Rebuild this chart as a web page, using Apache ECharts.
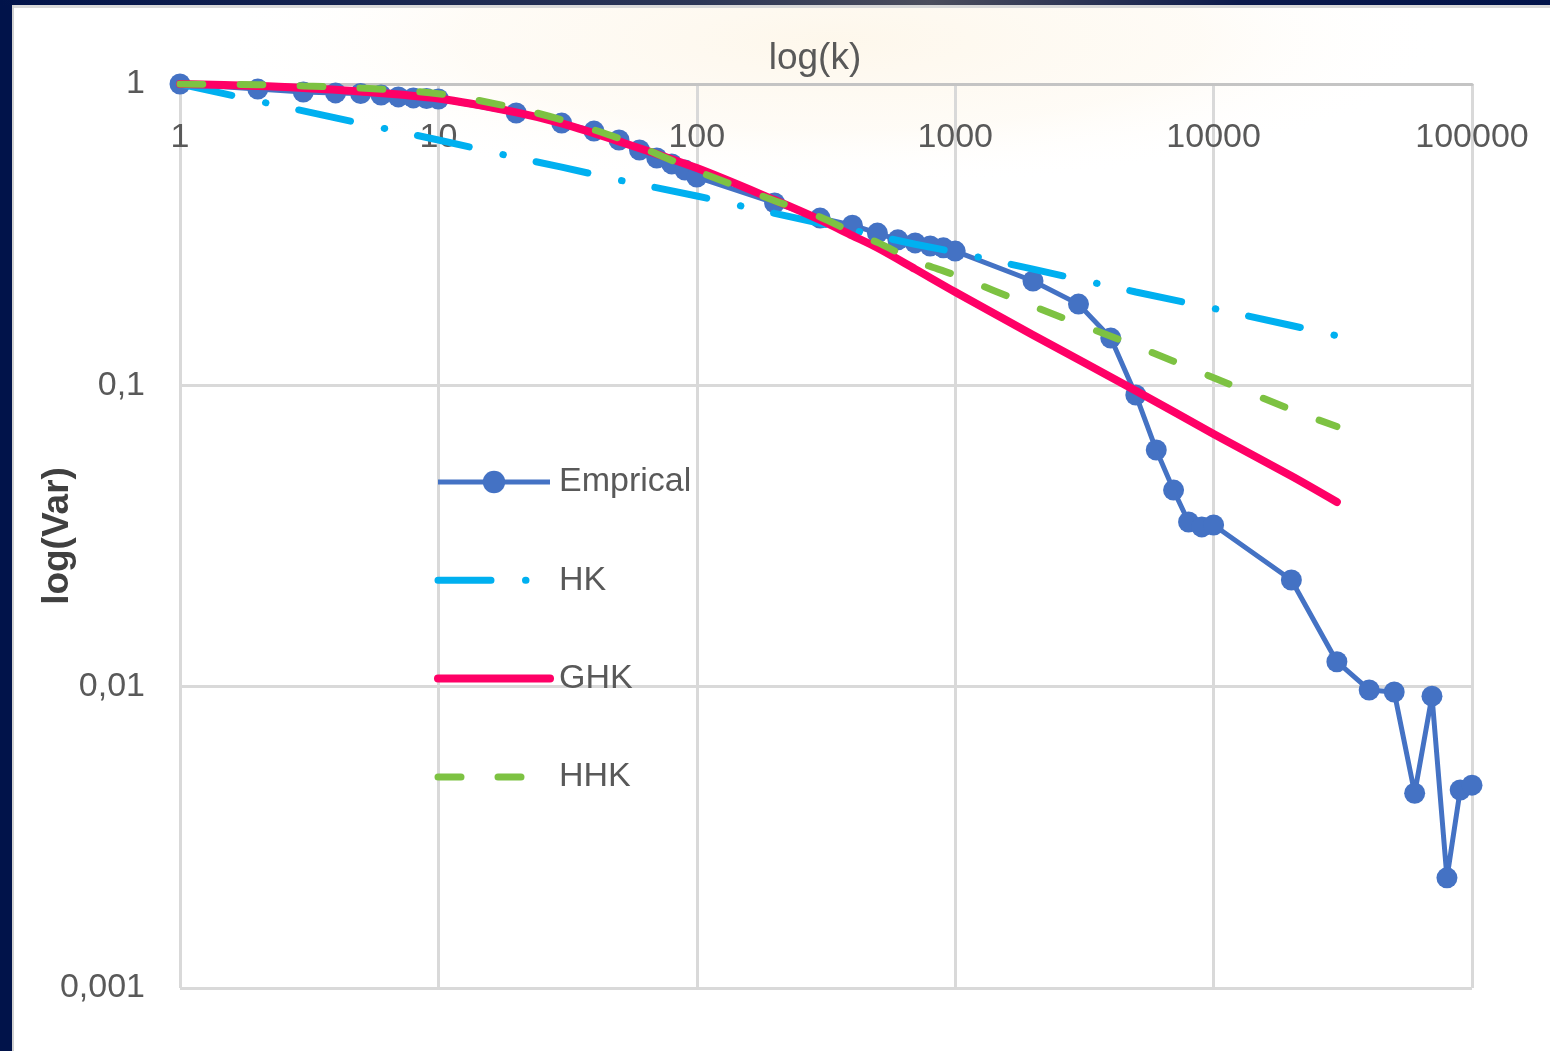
<!DOCTYPE html>
<html>
<head>
<meta charset="utf-8">
<title>log(Var) vs log(k)</title>
<script src="https://cdn.jsdelivr.net/npm/echarts@6/dist/echarts.min.js"></script>
<style>
  html, body { margin: 0; padding: 0; background: #ffffff; }
  #chart { width: 1550px; height: 1051px; }
</style>
</head>
<body>
<div id="chart"></div>
<script>
// Aggregation scales k and the empirical variance at each scale
const empiricalK = [1, 2, 3, 4, 5, 6, 7, 8, 9, 10,
  20, 30, 40, 50, 60, 70, 80, 90, 100,
  200, 300, 400, 500, 600, 700, 800, 900, 1000,
  2000, 3000, 4000, 5000, 6000, 7000, 8000, 9000, 10000,
  20000, 30000, 40000, 50000, 60000, 70000, 80000, 90000, 100000];
const empiricalVar = [1.0, 0.962, 0.941, 0.934, 0.93, 0.919, 0.906, 0.899, 0.895, 0.892,
  0.801, 0.742, 0.698, 0.652, 0.604, 0.568, 0.543, 0.518, 0.491,
  0.403, 0.359, 0.340, 0.320, 0.304, 0.297, 0.290, 0.286, 0.279,
  0.222, 0.186, 0.1435, 0.0929, 0.061, 0.0449, 0.0352, 0.0339, 0.0344,
  0.0226, 0.0121, 0.00975, 0.0096, 0.00443, 0.0093, 0.00232, 0.00454, 0.00471];

// Fitted models, evaluated at a common set of scales
const modelK = [1, 2, 3, 5, 10, 20, 30, 50, 100, 200, 300, 400, 500, 700,
  1000, 2000, 5000, 10000, 20000, 30000];
const hkVar = [1.0, 0.878, 0.814, 0.74, 0.652, 0.57, 0.53, 0.48, 0.425, 0.372, 0.345, 0.328, 0.313, 0.294,
  0.277, 0.243, 0.204, 0.180, 0.158, 0.146];
const ghkVar = [1.0, 0.985, 0.97, 0.945, 0.895, 0.805, 0.74, 0.645, 0.526, 0.412, 0.354, 0.314, 0.286, 0.243,
  0.204, 0.147, 0.096, 0.069, 0.050, 0.041];
const hhkVar = [1.0, 0.995, 0.985, 0.97, 0.928, 0.832, 0.76, 0.66, 0.515, 0.41, 0.362, 0.322, 0.298, 0.259,
  0.232, 0.183, 0.135, 0.106, 0.083, 0.073];

const seriesNames = ['Emprical', 'HK', 'GHK', 'HHK'];
const xTickLabels = ['1', '10', '100', '1000', '10000', '100000'];
const yTickLabels = ['0,001', '0,01', '0,1', '1'];

const pairs = (xs, ys) => xs.map((x, i) => [x, ys[i]]);

const FONT = '"Liberation Sans", Arial, sans-serif';
const TEXT_GREY = '#595959';

const BLUE = '#4472c4';
const CYAN = '#00b0f0';
const PINK = '#ff0066';
const GREEN = '#7dc242';

const hkDash = [53, 34.5, 0.5, 33.5];
const hhkDash = [23, 37];

const chart = echarts.init(document.getElementById('chart'), null, { renderer: 'canvas' });

chart.setOption({
  backgroundColor: '#ffffff',
  animation: false,
  textStyle: { fontFamily: FONT },
  graphic: [
    // warm light wash behind the top of the plot (a squashed radial glow)
    {
      type: 'rect', z: -10, silent: true,
      x: 830, y: 40, scaleY: 0.24,
      shape: { x: -620, y: -620, width: 1240, height: 1240 },
      style: {
        fill: {
          type: 'radial', x: 0.5, y: 0.5, r: 0.5,
          colorStops: [
            { offset: 0, color: 'rgba(252, 238, 212, 0.45)' },
            { offset: 0.6, color: 'rgba(253, 243, 225, 0.3)' },
            { offset: 1, color: 'rgba(255, 255, 255, 0)' }
          ]
        }
      }
    },
    // slide frame: navy left edge and top strip
    {
      type: 'rect', z: 100, silent: true,
      shape: { x: 0, y: 0, width: 12, height: 1051 },
      style: { fill: '#01134a' }
    },
    {
      type: 'rect', z: 100, silent: true,
      shape: { x: 0, y: 0, width: 1550, height: 5 },
      style: {
        fill: {
          type: 'linear', x: 0, y: 0, x2: 1, y2: 0,
          colorStops: [
            { offset: 0, color: '#01134a' },
            { offset: 0.45, color: '#2c3656' },
            { offset: 0.6, color: '#4b4d5c' },
            { offset: 0.8, color: '#0c1a4c' },
            { offset: 1, color: '#01134a' }
          ]
        }
      }
    },
    {
      type: 'rect', z: 100, silent: true,
      shape: { x: 12, y: 5, width: 1538, height: 3 },
      style: { fill: '#d9d9d9' }
    },
    {
      type: 'rect', z: 100, silent: true,
      shape: { x: 12, y: 5, width: 2, height: 1046 },
      style: { fill: '#d0d0d0' }
    }
  ],
  grid: { left: 180, right: 78, top: 84, bottom: 63, containLabel: false },
  legend: {
    orient: 'vertical',
    left: 434,
    top: 465,
    padding: 0,
    itemWidth: 112,
    itemHeight: 28,
    itemGap: 64.3,
    data: [
      { name: seriesNames[0], lineStyle: { width: 5 } },
      { name: seriesNames[1], itemStyle: { opacity: 0 },
        lineStyle: { width: 7, type: hkDash, cap: 'round' } },
      { name: seriesNames[2], itemStyle: { opacity: 0 },
        lineStyle: { width: 8, cap: 'round' } },
      { name: seriesNames[3], itemStyle: { opacity: 0 },
        lineStyle: { width: 7, type: hhkDash, cap: 'round' } }
    ],
    textStyle: { fontSize: 34, color: TEXT_GREY, fontFamily: FONT, padding: [0, 0, 0, 4] }
  },
  xAxis: {
    type: 'log',
    logBase: 10,
    min: 1,
    max: 100000,
    position: 'top',
    name: 'log(k)',
    nameLocation: 'middle',
    nameGap: 7,
    nameMoveOverlap: false,
    nameTextStyle: { fontSize: 37, color: TEXT_GREY, fontFamily: FONT, padding: [0, 22, 0, 0] },
    axisLine: { show: true, lineStyle: { color: '#c4c4c4', width: 3 } },
    axisTick: { show: false },
    splitLine: { show: true, lineStyle: { color: '#d9d9d9', width: 3 } },
    minorSplitLine: { show: false },
    axisLabel: {
      inside: true,
      margin: 37,
      fontSize: 34,
      color: TEXT_GREY,
      fontFamily: FONT,
      formatter: v => xTickLabels[Math.round(Math.log10(v))]
    }
  },
  yAxis: {
    type: 'log',
    logBase: 10,
    min: 0.001,
    max: 1,
    name: 'log(Var)',
    nameLocation: 'middle',
    nameGap: 104,
    nameMoveOverlap: false,
    nameTextStyle: { fontSize: 37, color: '#404040', fontWeight: 'bold', fontFamily: FONT },
    axisLine: { show: false },
    axisTick: { show: false },
    splitLine: { show: true, lineStyle: { color: '#d9d9d9', width: 3 } },
    axisLabel: {
      margin: 35,
      fontSize: 34,
      color: TEXT_GREY,
      fontFamily: FONT,
      formatter: v => yTickLabels[Math.round(Math.log10(v)) + 3]
    }
  },
  series: [
    {
      name: seriesNames[0],
      type: 'line',
      data: pairs(empiricalK, empiricalVar),
      symbol: 'circle',
      symbolSize: 21,
      showAllSymbol: true,
      color: BLUE,
      itemStyle: { color: BLUE },
      lineStyle: { color: BLUE, width: 5 },
      z: 2
    },
    {
      name: seriesNames[1],
      type: 'line',
      data: pairs(modelK, hkVar),
      symbol: 'none',
      color: CYAN,
      lineStyle: { color: CYAN, width: 7, type: hkDash, cap: 'round' },
      z: 3
    },
    {
      name: seriesNames[2],
      type: 'line',
      data: pairs(modelK, ghkVar),
      symbol: 'none',
      smooth: 0.3,
      color: PINK,
      lineStyle: { color: PINK, width: 8, cap: 'round', join: 'round' },
      z: 4
    },
    {
      name: seriesNames[3],
      type: 'line',
      data: pairs(modelK, hhkVar),
      symbol: 'none',
      smooth: 0.3,
      color: GREEN,
      lineStyle: { color: GREEN, width: 7, type: hhkDash, cap: 'round' },
      z: 5
    }
  ]
});
</script>
</body>
</html>
